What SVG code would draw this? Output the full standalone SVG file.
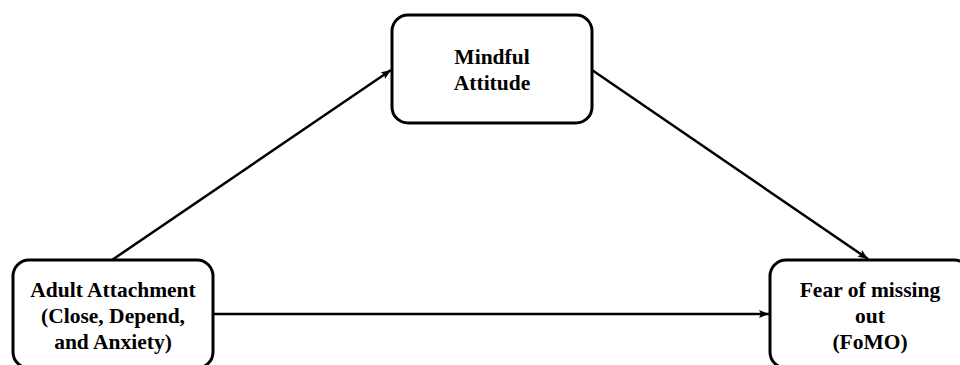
<svg xmlns="http://www.w3.org/2000/svg" width="960" height="365" viewBox="0 0 960 365">
<style>
.box{fill:#fff;stroke:#000;stroke-width:3}
.lbl{font-family:"Liberation Serif","Times New Roman",serif;font-weight:bold;font-size:21.5px;fill:#000;text-anchor:middle}
.conn{stroke:#000;stroke-width:2.5;fill:none;marker-end:url(#ah)}
</style>
<defs>
<marker id="ah" viewBox="0 0 10 8" refX="10" refY="4" markerWidth="10" markerHeight="8" markerUnits="userSpaceOnUse" orient="auto">
<path d="M0,0 L10,4 L0,8 L2,4 Z" fill="#000"/>
</marker>
</defs>
<rect width="960" height="365" fill="#fff"/>
<g id="connectors">
<line class="conn" x1="112" y1="260" x2="391" y2="70"/>
<line class="conn" x1="592" y1="70" x2="868" y2="259"/>
<line class="conn" x1="213" y1="314" x2="769" y2="314"/>
</g>
<g id="mindful">
<rect class="box" x="392" y="15" width="200" height="108" rx="16"/>
<text class="lbl" x="492" y="64">Mindful</text>
<text class="lbl" x="492" y="90">Attitude</text>
</g>
<g id="adult">
<rect class="box" x="13" y="260" width="200" height="108" rx="16"/>
<text class="lbl" x="113" y="297">Adult Attachment</text>
<text class="lbl" x="113" y="323">(Close, Depend,</text>
<text class="lbl" x="113" y="349">and Anxiety)</text>
</g>
<g id="fomo">
<rect class="box" x="770" y="260" width="200" height="108" rx="16"/>
<text class="lbl" x="870" y="297">Fear of missing</text>
<text class="lbl" x="870" y="323">out</text>
<text class="lbl" x="870" y="349">(FoMO)</text>
</g>
</svg>
